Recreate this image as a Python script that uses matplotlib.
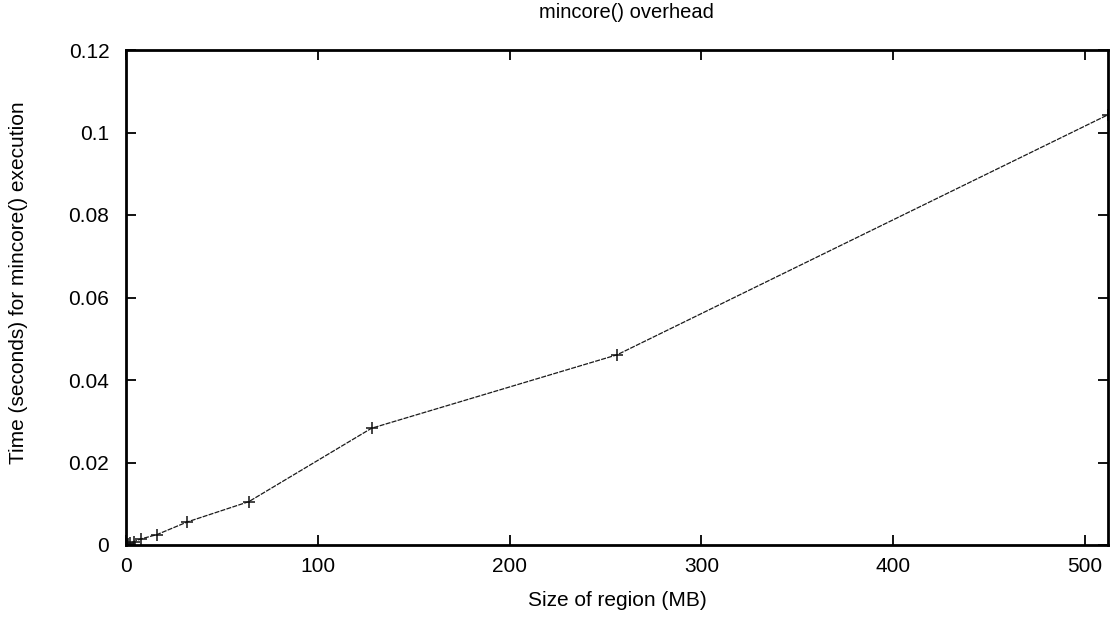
import matplotlib
matplotlib.use("Agg")
import matplotlib.pyplot as plt

plt.rcParams['font.family'] = ['Liberation Sans', 'DejaVu Sans']

size_mb = [0.25, 0.5, 1, 2, 4, 8, 16, 32, 64, 128, 256, 512]
time_s = [0.0001, 0.0001, 0.0002, 0.0004, 0.0008, 0.0015, 0.0025, 0.0056, 0.0105, 0.0283, 0.0461, 0.1043]

x_ticks = [0, 100, 200, 300, 400, 500]
y_ticks = [0, 0.02, 0.04, 0.06, 0.08, 0.1, 0.12]
y_tick_labels = ['0', '0.02', '0.04', '0.06', '0.08', '0.1', '0.12']

W, H = 1112, 619
fig = plt.figure(figsize=(W / 100, H / 100), dpi=100)
ax = fig.add_axes([126 / W, 1 - 545 / H, (1108 - 126) / W, (545 - 50) / H])

ax.plot(size_mb, time_s, color='#1a1a1a', linewidth=0.9, linestyle=(0, (4, 1)),
        marker='+', markersize=9, markeredgewidth=1.1, markeredgecolor='#111111')

ax.set_xlim(0, 512)
ax.set_ylim(0, 0.12)
ax.set_xticks(x_ticks)
ax.set_xticklabels([str(v) for v in x_ticks])
ax.set_yticks(y_ticks)
ax.set_yticklabels(y_tick_labels)

ax.tick_params(direction='in', top=True, right=True, length=7, width=1.3,
               labelsize=15, colors='black')
ax.tick_params(axis='y', pad=12)
ax.tick_params(axis='x', pad=9)
for s in ax.spines.values():
    s.set_linewidth(2)
    s.set_color('black')

fig.text(626 / W, 1 - 13 / H, 'mincore() overhead', fontsize=14.5,
         ha='center', va='center')
fig.text(617 / W, 1 - 600 / H, 'Size of region (MB)', fontsize=15,
         ha='center', va='center')
fig.text(19 / W, 1 - 283 / H, 'Time (seconds) for mincore() execution', fontsize=15,
         ha='center', va='center', rotation=90)

fig.savefig('out.png', dpi=100)
